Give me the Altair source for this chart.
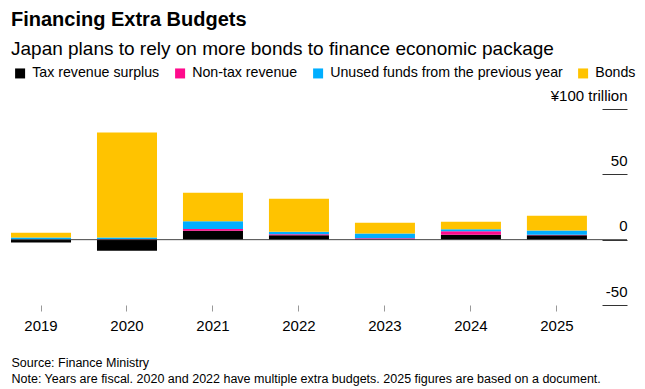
import altair as alt
import pandas as pd

years = ["2019", "2020", "2021", "2022", "2023", "2024", "2025"]
categories = ["Tax revenue surplus", "Non-tax revenue",
              "Unused funds from the previous year", "Bonds"]
tax_surplus = [-2.1, -8.4, 6.9, 3.3, 0.0, 3.8, 3.3]
non_tax = [0.0, 0.6, 1.3, 0.8, 1.0, 2.6, 0.5]
unused_funds = [1.7, 1.0, 5.9, 2.0, 3.8, 1.5, 3.3]
bonds = [3.6, 80.4, 21.9, 25.3, 8.2, 5.9, 11.2]
colors = ["#000000", "#ff0a8c", "#00aeff", "#ffc300"]
y_ticks = [-50, 0, 50, 100]

title = "Financing Extra Budgets"
subtitle = "Japan plans to rely on more bonds to finance economic package"
footer = ["Source: Finance Ministry",
          "Note: Years are fiscal. 2020 and 2022 have multiple extra budgets. 2025 figures are based on a document."]

series = [tax_surplus, non_tax, unused_funds, bonds]
rows = []
for i, yr in enumerate(years):
    for k, cat in enumerate(categories):
        rows.append({"year": yr, "category": cat, "value": series[k][i], "order": k})
df = pd.DataFrame(rows)

FONT = "Liberation Sans"

bars = alt.Chart(df).mark_bar().encode(
    x=alt.X("year:N", sort=years,
            scale=alt.Scale(paddingInner=0.302, paddingOuter=0.233, align=0),
            axis=alt.Axis(title=footer, titleAnchor="start", titleAlign="left",
                          titleX=0, titleY=51, titleBaseline="top",
                          titleFontSize=12.5, titleFontWeight="normal",
                          titleColor="#000", titleLineHeight=16, titleFont=FONT,
                          titleLimit=0,
                          labelAngle=0, labelFontSize=15, labelColor="#000",
                          labelPadding=7, labelFont=FONT,
                          domain=False, ticks=True, tickColor="#999", tickSize=6)),
    y=alt.Y("value:Q", stack="zero",
            scale=alt.Scale(domain=[-50, 100], nice=False),
            axis=alt.Axis(title=None, orient="right", offset=-25, tickSize=25,
                          tickColor="#333", values=y_ticks, domain=False, grid=False,
                          labelAlign="right", labelBaseline="alphabetic",
                          labelPadding=0, labelOffset=-9, labelFontSize=15,
                          labelColor="#000", labelFont=FONT, labelLimit=0,
                          labelExpr="datum.value == 100 ? '¥100 trillion' : '' + datum.value")),
    color=alt.Color("category:N",
                    scale=alt.Scale(domain=categories, range=colors),
                    legend=alt.Legend(title=None, orient="none", direction="horizontal",
                                      legendX=2, legendY=-43, symbolType="square",
                                      symbolSize=100, symbolStrokeWidth=0,
                                      labelFontSize=14.2, labelFont=FONT,
                                      labelColor="#000", labelOffset=5, labelLimit=0,
                                      columnPadding=13, padding=0)),
    order=alt.Order("order:Q"),
)

zero = alt.Chart(pd.DataFrame({"v": [0]})).mark_rule(color="#444", strokeWidth=1).encode(
    y=alt.Y("v:Q")
)

chart = alt.layer(bars, zero).properties(
    width=616, height=196,
    title=alt.TitleParams(text=title, subtitle=subtitle, anchor="start", frame="group",
                          font=FONT, fontSize=20, fontWeight="bold", color="#000",
                          subtitleFont=FONT, subtitleFontSize=19, subtitleColor="#000",
                          subtitlePadding=10, offset=7),
    autosize=alt.AutoSizeParams(type="none"),
    padding={"left": 3, "top": 101, "right": 10, "bottom": 83},
).configure_view(stroke=None)

chart.save("out.html", embed_options={"renderer": "svg", "actions": False})
